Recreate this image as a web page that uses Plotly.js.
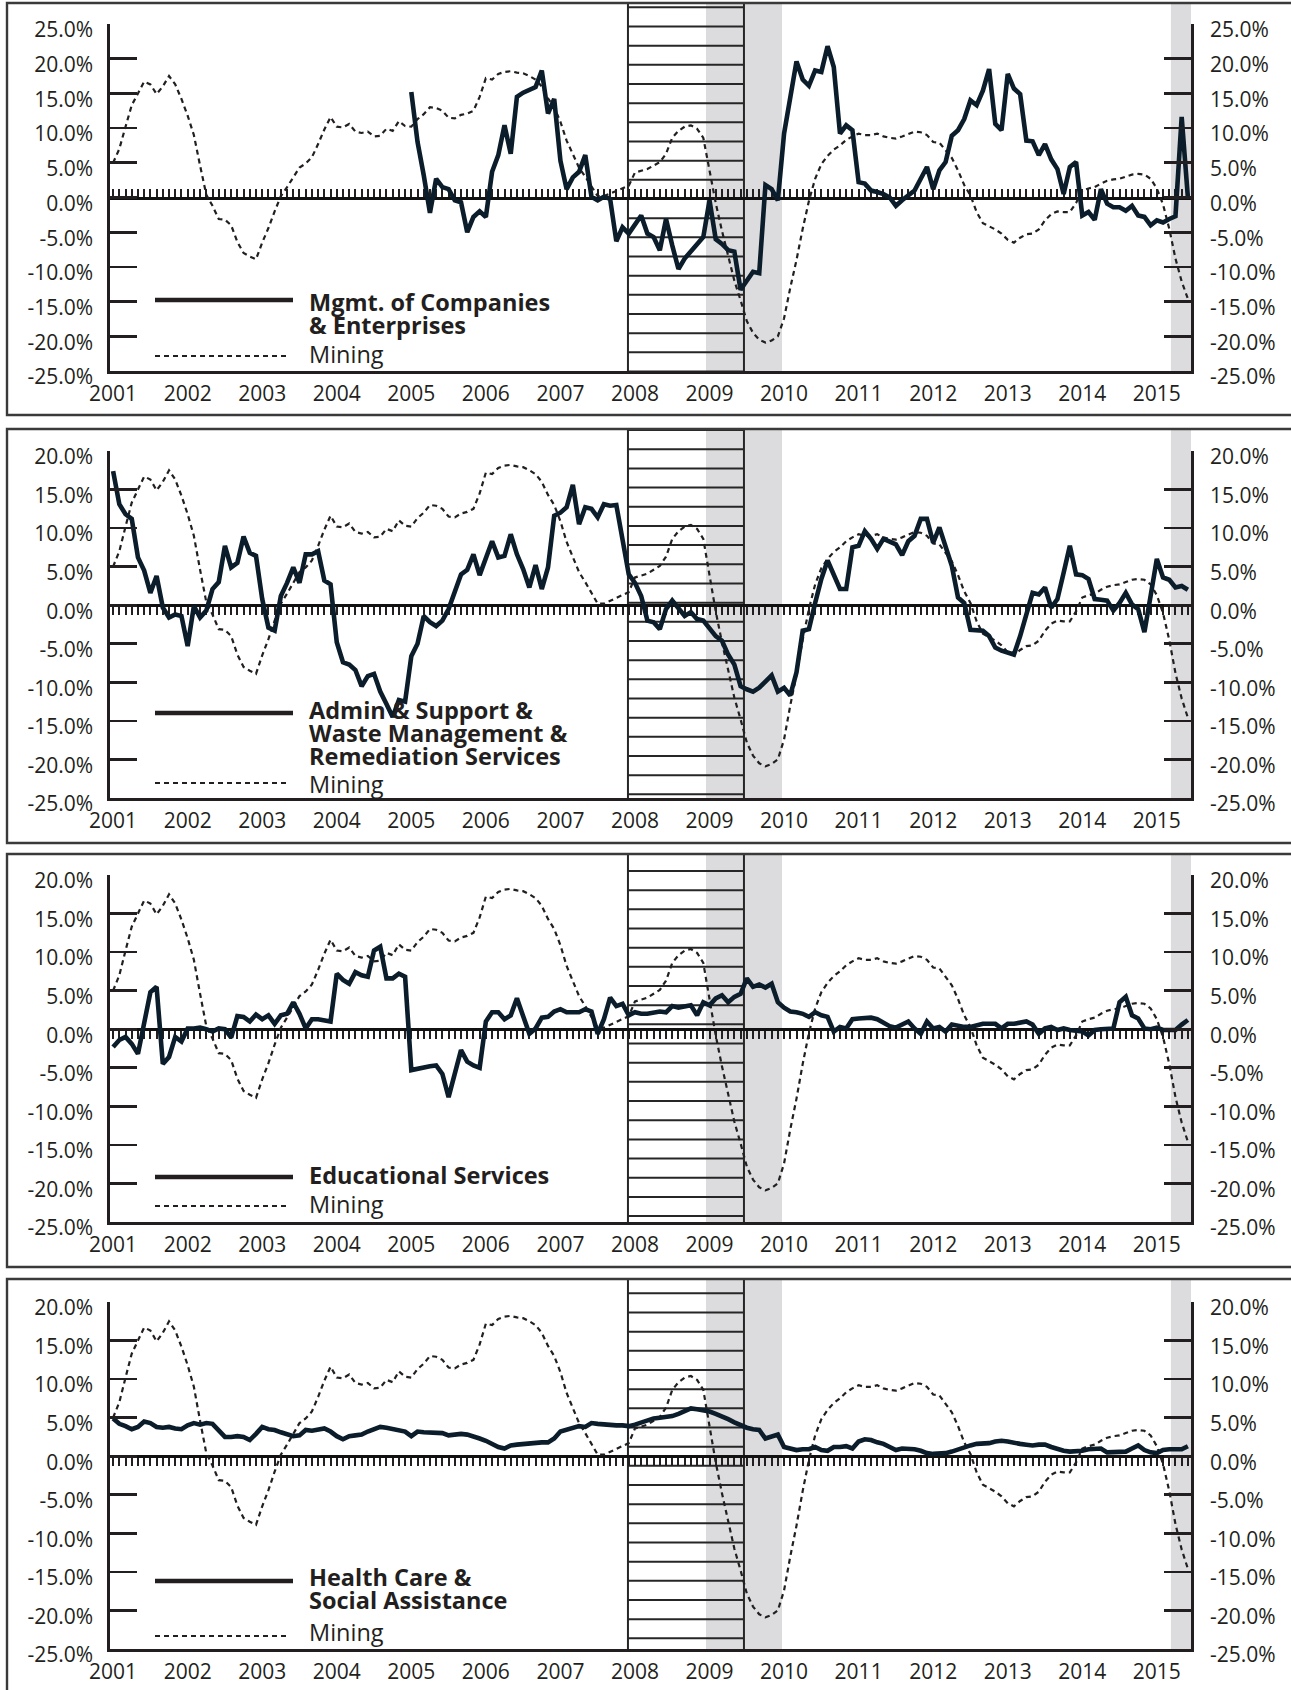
<!DOCTYPE html>
<html><head><meta charset="utf-8">
<script src="https://cdn.plot.ly/plotly-3.0.1.min.js"></script>
<style>html,body{margin:0;padding:0;background:#fff}#chart{width:1291px;height:1690px}</style>
</head><body><div id="chart"></div>
<script>
// ---------- DATA ----------
const START_YEAR = 2001;          // first month: Jan 2001
const MONTH_COUNT = 174;          // Jan 2001 .. Jun 2015
const months = Array.from({length: MONTH_COUNT}, (_, i) => START_YEAR + i / 12);
const yearLabels = ['2001','2002','2003','2004','2005','2006','2007','2008','2009','2010','2011','2012','2013','2014','2015'];

const mining = [
 5.0, 7.0, 10.2, 13.3, 15.0, 16.7, 16.3, 14.9, 16.0, 17.5,
 16.3, 14.2, 11.8, 9.0, 4.6, 0.4, -1.2, -3.1, -3.2, -4.0,
 -6.4, -8.0, -8.5, -8.9, -6.5, -4.4, -2.0, 0.2, 1.5, 3.0,
 4.3, 4.9, 5.8, 7.7, 9.8, 11.6, 10.2, 10.1, 10.6, 9.5,
 9.3, 9.5, 8.8, 8.9, 9.9, 9.6, 11.0, 10.3, 10.2, 11.3,
 12.0, 13.0, 12.9, 12.5, 11.5, 11.4, 11.9, 12.1, 12.5, 14.5,
 17.2, 17.0, 17.8, 18.1, 18.2, 18.0, 17.9, 17.5, 17.0, 16.0,
 14.3, 13.0, 10.9, 8.2, 6.3, 4.3, 3.0, 1.5, 0.2, 0.2,
 0.6, 1.0, 1.4, 1.7, 3.6, 3.8, 4.1, 4.6, 5.1, 6.3,
 8.6, 9.6, 10.2, 10.4, 9.9, 8.6, 4.0, -0.8, -4.8, -8.5,
 -12.0, -14.8, -17.8, -19.5, -20.5, -20.9, -20.6, -20.0, -17.4, -13.0,
 -9.0, -4.5, -0.5, 2.7, 4.8, 6.0, 6.9, 7.5, 8.3, 8.8,
 9.2, 9.0, 9.0, 9.2, 8.8, 8.6, 8.5, 8.8, 9.2, 9.5,
 9.4, 9.0, 8.0, 7.9, 6.8, 5.7, 3.9, 1.8, 0.3, -2.1,
 -3.7, -4.1, -4.6, -5.2, -6.1, -6.5, -5.8, -5.3, -5.2, -4.6,
 -3.3, -2.4, -2.0, -2.1, -2.1, -0.8, 1.0, 1.3, 1.5, 2.0,
 2.4, 2.6, 2.7, 3.0, 3.3, 3.4, 3.3, 2.7, 1.3, -1.0,
 -4.5, -8.8, -12.1, -14.6
];

// Mgmt. of Companies & Enterprises starts Jan 2005 (month index 48)
const mgmtStartIndex = 48;
const mgmt = [
 15.2, 8.0, 3.2, -2.2, 2.7, 1.5, 1.2, -0.4, -0.7, -5.0, -2.8, -2.0,
 -2.8, 3.7, 6.1, 10.4, 6.3, 14.5, 15.1, 15.5, 15.9, 18.3,
 12.1, 14.2, 5.3, 1.2, 2.9, 3.7, 6.1, 0.1, -0.4, 0.1,
 -0.2, -6.3, -4.3, -5.2, -3.8, -2.6, -5.2, -5.7, -7.6, -3.1,
 -6.9, -10.3, -8.8, -7.8, -6.9, -5.7, -0.4, -6.0, -6.7, -7.6,
 -7.8, -13.3, -12.0, -10.7, -10.9, 1.8, 1.2, -0.4, 9.2, 14.5,
 19.6, 17.0, 16.1, 18.3, 18.1, 21.8, 18.8, 9.2, 10.4, 9.7,
 2.2, 2.0, 1.0, 0.8, 0.5, 0.0, -1.2, -0.4, 0.3, 1.0,
 2.7, 4.4, 1.2, 3.9, 5.1, 8.9, 9.7, 11.3, 14.0, 13.3,
 15.4, 18.5, 10.6, 9.7, 17.8, 15.7, 14.9, 8.2, 8.1, 6.1,
 7.7, 5.5, 4.1, 0.5, 4.4, 5.1, -2.6, -2.1, -3.2, 1.2,
 -0.9, -1.4, -1.4, -1.9, -1.2, -2.6, -2.8, -4.0, -3.3, -3.6,
 -3.1, -2.7, 11.6, 0.0
];

const admin = [
 17.4, 13.1, 11.8, 11.2, 6.2, 4.5, 1.6, 3.8, -0.3, -1.6,
 -1.2, -1.4, -5.3, -0.1, -1.6, -0.7, 2.1, 3.0, 7.7, 4.9,
 5.5, 8.9, 6.8, 6.4, 0.8, -2.9, -3.3, 1.2, 2.9, 4.9,
 2.9, 6.6, 6.6, 7.0, 3.2, 2.7, -4.8, -7.4, -7.7, -8.4,
 -10.5, -9.2, -8.9, -11.2, -12.8, -14.5, -12.3, -12.5, -6.6, -5.0,
 -1.4, -2.2, -2.7, -2.0, -0.5, 1.6, 4.0, 4.6, 6.6, 3.9,
 6.2, 8.3, 6.2, 6.4, 9.2, 6.6, 4.7, 2.3, 5.2, 2.1,
 4.9, 11.6, 12.0, 12.7, 15.6, 10.5, 12.7, 12.5, 11.4, 13.1,
 12.9, 13.0, 8.5, 4.0, 2.9, 1.2, -2.0, -2.2, -3.1, -0.5,
 0.6, -0.5, -1.4, -0.9, -1.8, -2.0, -2.9, -4.0, -4.6, -6.4,
 -7.7, -10.5, -10.9, -11.2, -10.7, -9.9, -9.1, -11.2, -10.7, -11.7,
 -8.7, -3.3, -3.1, 0.3, 3.4, 5.8, 3.8, 2.1, 2.1, 7.5,
 7.7, 9.6, 8.6, 7.3, 8.6, 8.2, 7.9, 6.5, 8.3, 9.0,
 11.2, 11.2, 8.1, 10.1, 7.5, 5.1, 1.0, 0.3, -3.2, -3.2,
 -3.3, -4.0, -5.5, -5.9, -6.2, -6.4, -4.0, -1.0, 1.6, 1.4,
 2.3, -0.3, 0.8, 4.2, 7.7, 4.0, 3.9, 3.4, 0.8, 0.7,
 0.6, -0.7, 0.3, 1.6, 0.1, -0.5, -3.5, 1.2, 6.0, 3.6,
 3.3, 2.3, 2.5, 2.0
];

const education = [
 -2.3, -1.4, -1.0, -1.9, -3.2, 1.0, 4.8, 5.5, -4.5, -3.6,
 -1.0, -1.6, 0.1, 0.1, 0.2, 0.0, -0.3, 0.1, 0.0, -1.1,
 1.7, 1.6, 1.0, 1.9, 1.3, 1.8, 0.7, 1.8, 2.0, 3.5,
 2.0, 0.1, 1.3, 1.3, 1.2, 1.0, 7.2, 6.4, 5.9, 7.4,
 7.0, 6.8, 10.2, 10.7, 6.6, 6.6, 7.2, 6.8, -5.3, -5.1,
 -4.9, -4.8, -4.7, -5.8, -8.8, -5.8, -2.7, -4.2, -4.7, -5.0,
 1.0, 2.2, 2.2, 1.3, 1.8, 4.0, 1.8, -0.6, 0.1, 1.5,
 1.6, 2.3, 2.6, 2.2, 2.2, 2.2, 2.6, 2.3, -0.6, 1.3,
 4.1, 3.0, 3.3, 1.8, 2.2, 2.0, 2.0, 2.2, 2.3, 2.2,
 3.0, 2.8, 2.9, 3.1, 1.8, 3.5, 3.1, 4.0, 4.4, 3.5,
 4.2, 4.6, 6.6, 5.5, 5.8, 5.4, 5.9, 3.5, 2.8, 2.3,
 2.2, 2.0, 1.6, 2.2, 1.8, 1.6, -0.3, 0.3, 0.1, 1.3,
 1.4, 1.5, 1.5, 1.3, 0.8, 0.4, 0.2, 0.6, 1.0, 0.1,
 -0.6, 1.0, 0.1, 0.3, -0.3, 0.6, 0.4, 0.3, 0.3, 0.5,
 0.7, 0.7, 0.7, 0.1, 0.7, 0.7, 0.9, 1.0, 0.6, -0.6,
 0.1, 0.3, -0.1, 0.1, -0.1, -0.2, -0.3, -0.8, -0.1, 0.0,
 0.1, 0.1, 3.5, 4.2, 1.8, 1.4, 0.1, 0.0, 0.2, -0.1,
 -0.1, -0.1, 0.6, 1.2
];

const health = [
 4.9, 4.2, 3.9, 3.5, 3.8, 4.5, 4.3, 3.8, 3.7, 3.8,
 3.6, 3.5, 4.0, 4.3, 4.1, 4.3, 4.2, 3.4, 2.5, 2.5,
 2.6, 2.5, 2.1, 2.9, 3.8, 3.5, 3.4, 3.1, 2.8, 2.6,
 2.7, 3.4, 3.3, 3.4, 3.6, 3.2, 2.6, 2.2, 2.6, 2.7,
 2.8, 3.2, 3.5, 3.8, 3.7, 3.5, 3.4, 3.2, 2.6, 3.2,
 3.1, 3.1, 3.0, 3.0, 2.7, 2.8, 2.9, 2.8, 2.6, 2.3,
 2.0, 1.6, 1.2, 1.0, 1.4, 1.5, 1.6, 1.7, 1.8, 1.8,
 1.8, 2.3, 3.2, 3.4, 3.6, 3.9, 3.8, 4.3, 4.2, 4.1,
 4.0, 4.0, 4.0, 3.9, 4.1, 4.4, 4.7, 4.9, 5.0, 5.1,
 5.2, 5.5, 5.8, 6.2, 6.1, 6.0, 5.8, 5.5, 5.2, 4.8,
 4.4, 4.0, 3.7, 3.5, 3.4, 2.3, 2.5, 2.8, 1.2, 1.0,
 0.8, 0.9, 0.9, 1.2, 0.8, 0.7, 1.2, 1.2, 1.3, 1.0,
 1.9, 2.2, 2.1, 1.8, 1.6, 1.2, 0.8, 1.0, 1.0, 0.9,
 0.7, 0.4, 0.3, 0.3, 0.4, 0.6, 0.9, 1.2, 1.4, 1.6,
 1.6, 1.7, 1.9, 2.0, 1.9, 1.7, 1.6, 1.5, 1.4, 1.5,
 1.5, 1.2, 0.9, 0.7, 0.6, 0.6, 0.7, 0.9, 0.9, 1.0,
 0.5, 0.5, 0.6, 0.6, 1.0, 1.4, 0.8, 0.5, 0.4, 0.8,
 0.9, 0.9, 0.9, 1.3
];

const yTicks50 = [-25, -20, -15, -10, -5, 0, 5, 10, 15, 20, 25];
const yTicks45 = [-25, -20, -15, -10, -5, 0, 5, 10, 15, 20];
const yTickText50 = ['-25.0%','-20.0%','-15.0%','-10.0%','-5.0%','0.0%','5.0%','10.0%','15.0%','20.0%','25.0%'];
const yTickText45 = ['-25.0%','-20.0%','-15.0%','-10.0%','-5.0%','0.0%','5.0%','10.0%','15.0%','20.0%'];

// Period shadings (decimal years)
const hatchPeriod = [2007.906, 2009.462];
const grayPeriods = [[2008.953, 2009.972], [2015.189, 2015.46]];

// ---------- LAYOUT GEOMETRY ----------
const W = 1291, H = 1690;
const px2x = p => p / W;
const px2y = p => 1 - p / H;
const FONT = 'Open Sans, Noto Sans, sans-serif';
const INK = '#231f20';
const LINE = '#0b1c2a';
const TICKFONT = {family: FONT, size: 21, color: INK};
const LEGFONT = {family: FONT, size: 23.5, color: INK};
const xRange = [START_YEAR - 0.5 / 12, START_YEAR + (MONTH_COUNT - 0.5) / 12];

const panels = [
  {series: mgmt, start: mgmtStartIndex, label: ['Mgmt. of Companies', '& Enterprises'], top: 24, bottom: 371, lo: -25, hi: 25,
   boxTop: 3, boxBottom: 415, hatchFirst: 7.3, up: true, legSolid: 300, legText: [302, 325], legMining: 354, legDash: 356},
  {series: admin, start: 0, label: ['Admin & Support &', 'Waste Management &', 'Remediation Services'], top: 451, bottom: 798, lo: -25, hi: 20,
   boxTop: 429, boxBottom: 843, hatchFirst: 430.1, up: false, legSolid: 713, legText: [710, 733, 756], legMining: 784, legDash: 783},
  {series: education, start: 0, label: ['Educational Services'], top: 875, bottom: 1222, lo: -25, hi: 20,
   boxTop: 854, boxBottom: 1267, hatchFirst: 871, up: false, legSolid: 1177, legText: [1175], legMining: 1204, legDash: 1206},
  {series: health, start: 0, label: ['Health Care &', 'Social Assistance'], top: 1302, bottom: 1649, lo: -25, hi: 20,
   boxTop: 1279, boxBottom: 1720, hatchFirst: 1293.3, up: false, legSolid: 1581, legText: [1577, 1600], legMining: 1632, legDash: 1636}
];

const traces = [], shapes = [], annotations = [];
const layout = {
  width: W, height: H, margin: {l: 0, r: 0, t: 0, b: 0},
  paper_bgcolor: '#ffffff', plot_bgcolor: 'rgba(0,0,0,0)',
  showlegend: false, font: {family: FONT, color: INK}
};

panels.forEach((p, i) => {
  const n = i + 1;
  const xid = n === 1 ? 'x' : 'x' + n, yid = n === 1 ? 'y' : 'y' + n;
  const zid = 'x' + (n + 4), rid = 'y' + (n + 4);
  const xkey = n === 1 ? 'xaxis' : 'xaxis' + n, ykey = n === 1 ? 'yaxis' : 'yaxis' + n;
  const ticks = p.hi === 25 ? yTicks50 : yTicks45;
  const tickText = p.hi === 25 ? yTickText50 : yTickText45;
  const d0 = px2y(p.bottom), d1 = px2y(p.top);
  const zeroPos = d0 + (0 - p.lo) / (p.hi - p.lo) * (d1 - d0);

  layout[xkey] = {
    domain: [px2x(110), px2x(1191)], range: xRange, anchor: yid,
    showline: true, linecolor: INK, linewidth: 2.7, ticks: '',
    tickvals: yearLabels.map(Number), ticktext: yearLabels,
    tickfont: TICKFONT, ticklabelstandoff: 2,
    showgrid: false, zeroline: false, fixedrange: true
  };
  layout[ykey] = {
    domain: [d0, d1], range: [p.lo, p.hi], anchor: xid,
    showline: true, linecolor: INK, linewidth: 2.7,
    ticks: 'inside', ticklen: 27, tickwidth: 2.7, tickcolor: INK,
    tickvals: ticks, ticktext: tickText,
    tickfont: TICKFONT, ticklabelstandoff: 10, ticklabelshift: 6,
    showgrid: false, zeroline: false, fixedrange: true
  };
  layout['xaxis' + (n + 4)] = {
    overlaying: xid, anchor: 'free', position: zeroPos, range: xRange,
    showline: true, linecolor: '#111', linewidth: 3,
    ticks: p.up ? 'inside' : 'outside', ticklen: 8, tickwidth: 2, tickcolor: INK,
    tick0: START_YEAR, dtick: 1 / 12, showticklabels: false,
    showgrid: false, zeroline: false, layer: 'below traces', fixedrange: true
  };
  layout['yaxis' + (n + 4)] = {
    overlaying: yid, side: 'right', anchor: xid, range: [p.lo, p.hi],
    showline: true, linecolor: INK, linewidth: 2.7,
    ticks: 'inside', ticklen: 27, tickwidth: 2.7, tickcolor: INK,
    tickvals: ticks, ticktext: tickText,
    tickfont: TICKFONT, ticklabelstandoff: 12, ticklabelshift: 6,
    showgrid: false, zeroline: false, fixedrange: true
  };

  traces.push({x: months, y: mining, xaxis: xid, yaxis: yid, type: 'scatter', mode: 'lines',
    line: {color: INK, width: 2.2, dash: '5px,4px'}, hoverinfo: 'skip'});
  traces.push({x: months.slice(p.start), y: p.series, xaxis: xid, yaxis: yid, type: 'scatter', mode: 'lines',
    line: {color: LINE, width: 4.6}, hoverinfo: 'skip'});
  traces.push({x: [null], y: [null], xaxis: zid, yaxis: yid, type: 'scatter', mode: 'lines', hoverinfo: 'skip'});
  traces.push({x: [null], y: [null], xaxis: xid, yaxis: rid, type: 'scatter', mode: 'lines', hoverinfo: 'skip'});

  // gray shading
  grayPeriods.forEach(g => shapes.push({type: 'rect', xref: xid, yref: 'paper', x0: g[0], x1: g[1],
    y0: px2y(p.bottom), y1: px2y(p.boxTop), fillcolor: '#dcdcde', line: {width: 0}, layer: 'below'}));
  // hatched period
  for (let yy = p.hatchFirst; yy <= p.bottom + 0.6; yy += 19.17) {
    shapes.push({type: 'line', xref: xid, yref: 'paper', x0: hatchPeriod[0], x1: hatchPeriod[1],
      y0: px2y(yy), y1: px2y(yy), line: {color: '#262626', width: 2}, layer: 'below'});
  }
  hatchPeriod.forEach(hx => shapes.push({type: 'line', xref: xid, yref: 'paper', x0: hx, x1: hx,
    y0: px2y(p.bottom), y1: px2y(p.boxTop), line: {color: '#262626', width: 2}, layer: 'below'}));
  // panel box
  shapes.push({type: 'rect', xref: 'paper', yref: 'paper', x0: px2x(7), x1: 1.05,
    y0: px2y(p.boxBottom), y1: px2y(p.boxTop), line: {color: '#3a3a3a', width: 2.4}, fillcolor: 'rgba(0,0,0,0)', layer: 'above'});
  // legend samples
  shapes.push({type: 'line', xref: 'paper', yref: 'paper', x0: px2x(155), x1: px2x(293),
    y0: px2y(p.legSolid), y1: px2y(p.legSolid), line: {color: INK, width: 4.6}, layer: 'above'});
  shapes.push({type: 'line', xref: 'paper', yref: 'paper', x0: px2x(155), x1: px2x(290),
    y0: px2y(p.legDash), y1: px2y(p.legDash), line: {color: INK, width: 2.2, dash: '5px,4px'}, layer: 'above'});
  p.label.forEach((t, k) => annotations.push({text: '<b>' + t + '</b>', xref: 'paper', yref: 'paper',
    x: px2x(307), y: px2y(p.legText[k]), xanchor: 'left', yanchor: 'middle', showarrow: false,
    font: LEGFONT}));
  annotations.push({text: 'Mining', xref: 'paper', yref: 'paper', x: px2x(307), y: px2y(p.legMining),
    xanchor: 'left', yanchor: 'middle', showarrow: false, font: LEGFONT});
});

layout.shapes = shapes;
layout.annotations = annotations;
Plotly.newPlot('chart', traces, layout, {staticPlot: true, displayModeBar: false});
</script>
</body></html>
